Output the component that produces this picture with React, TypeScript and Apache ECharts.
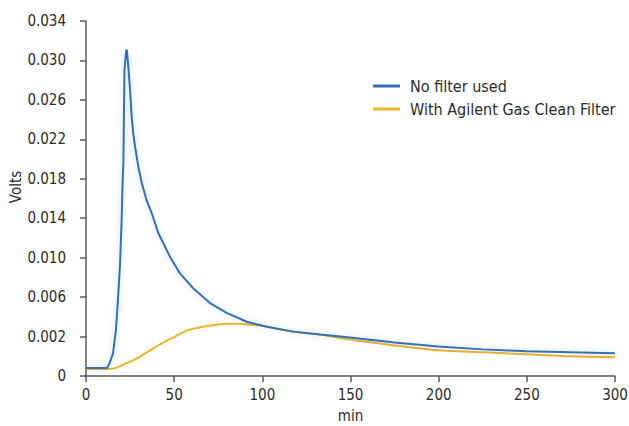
import React, { useEffect, useRef } from "react";
import * as echarts from "echarts";

// Tick labels as printed on the chart (the bottom "0" sits one 0.004 step below 0.002)
const yTickLabels = ["0", "0.002", "0.006", "0.010", "0.014", "0.018", "0.022", "0.026", "0.030", "0.034"];
const Y_SHIFT = 0.002; // axis position of the printed "0.002" label above the axis bottom

const seriesNames = ["No filter used", "With Agilent Gas Clean Filter"];
const xAxisTitle = "min";
const yAxisTitle = "Volts";

// No filter used (minutes, volts read against the printed labels)
const blueTime = [0, 11.9, 13.6, 15.3, 17, 18.1, 19.3, 20.2, 20.8, 21.2, 21.8, 22.7, 23.1, 24, 25, 25.9, 26.8, 27.8, 29.7, 31.6, 34.4, 37.3, 41, 47.6, 53.3, 60.8, 70.3, 79.8, 91.1, 102.5, 117.6, 132.7, 149.7, 175, 199.6, 225, 249.8, 275, 300];
const blueVolts = [-0.0012, -0.0012, -0.0006, 0.0003, 0.0027, 0.0057, 0.0093, 0.0138, 0.0179, 0.0196, 0.029, 0.0308, 0.0311, 0.0294, 0.027, 0.0243, 0.0226, 0.0213, 0.0192, 0.0176, 0.0158, 0.0145, 0.0125, 0.0101, 0.0084, 0.0069, 0.0054, 0.0044, 0.0035, 0.003, 0.0025, 0.0022, 0.0019, 0.0014, 0.001, 0.0007, 0.0005, 0.0004, 0.0003];

// With Agilent Gas Clean Filter
const orangeTime = [0, 5, 12.5, 16.4, 23, 30, 36.3, 43, 50.5, 57, 60.8, 70, 79.8, 86, 93, 103, 108, 121.4, 132.7, 149.7, 175, 199.6, 225, 249.8, 275, 300];
const orangeVolts = [-0.0013, -0.0013, -0.0013, -0.0012, -0.0007, -0.0001, 0.0006, 0.0013, 0.002, 0.0026, 0.0028, 0.0031, 0.0033, 0.0033, 0.0032, 0.003, 0.0028, 0.0024, 0.0022, 0.0017, 0.0011, 0.0006, 0.0004, 0.0002, 0.0, -0.0001];

const FONT = '"Liberation Sans Narrow", "DejaVu Sans Condensed", "Roboto", sans-serif';

export default function App() {
  const ref = useRef<HTMLDivElement>(null);
  useEffect(() => {
    if (!ref.current) return;
    const chart = echarts.init(ref.current, undefined, { renderer: "svg" });
    const blueData = blueTime.map((t, i) => [t, blueVolts[i] + Y_SHIFT]);
    const orangeData = orangeTime.map((t, i) => [t, orangeVolts[i] + Y_SHIFT]);
    const axisColor = "#5a5a5a";
    const labelColor = "#2b2b2b";
    chart.setOption({
      animation: false,
      backgroundColor: "#ffffff",
      textStyle: { fontFamily: FONT },
      grid: { left: 86, right: 14, top: 21, bottom: 50, containLabel: false, outerBoundsMode: "none" },
      legend: {
        orient: "vertical",
        left: 373,
        top: 78,
        padding: 0,
        icon: "rect",
        itemWidth: 27,
        itemHeight: 3,
        itemGap: 7,
        data: seriesNames,
        textStyle: { fontFamily: FONT, fontSize: 16, color: labelColor, lineHeight: 16, padding: [0, 0, 0, 5] },
      },
      graphic: [
        {
          type: "text",
          x: 16,
          y: 187,
          rotation: Math.PI / 2,
          style: {
            text: yAxisTitle,
            font: `15px ${FONT}`,
            fill: labelColor,
            align: "center",
            verticalAlign: "middle",
          },
        },
      ],
      xAxis: {
        type: "value",
        min: 0,
        max: 300,
        interval: 50,
        name: xAxisTitle,
        nameLocation: "middle",
        nameGap: 32,
        nameTextStyle: { fontFamily: FONT, fontSize: 15, color: labelColor },
        axisLine: { show: true, lineStyle: { color: axisColor, width: 1.5 } },
        axisTick: { show: true, length: 6, lineStyle: { color: axisColor, width: 1.5 } },
        axisLabel: { fontFamily: FONT, fontSize: 15, color: labelColor, margin: 11 },
        splitLine: { show: false },
      },
      yAxis: {
        type: "value",
        min: 0,
        max: 0.036,
        interval: 0.004,
        axisLine: { show: true, lineStyle: { color: axisColor, width: 1.5 } },
        axisTick: { show: true, length: 6, lineStyle: { color: axisColor, width: 1.5 } },
        axisLabel: {
          fontFamily: FONT,
          fontSize: 15,
          color: labelColor,
          margin: 20,
          formatter: (v: number) => yTickLabels[Math.round(v / 0.004)] ?? "",
        },
        splitLine: { show: false },
      },
      series: [
        {
          name: seriesNames[0],
          type: "line",
          data: blueData,
          showSymbol: false,
          symbol: "none",
          color: "#356fb6",
          lineStyle: { color: "#3470b6", width: 2, shadowBlur: 6, shadowColor: "rgba(80,140,210,0.35)" },
          z: 3,
        },
        {
          name: seriesNames[1],
          type: "line",
          data: orangeData,
          showSymbol: false,
          symbol: "none",
          smooth: 0.3,
          color: "#efb424",
          lineStyle: { color: "#eeb22a", width: 2 },
          z: 2,
        },
      ],
    });
    return () => chart.dispose();
  }, []);
  return <div ref={ref} style={{ position: "fixed", left: 0, top: 0, width: 629, height: 426 }} />;
}
